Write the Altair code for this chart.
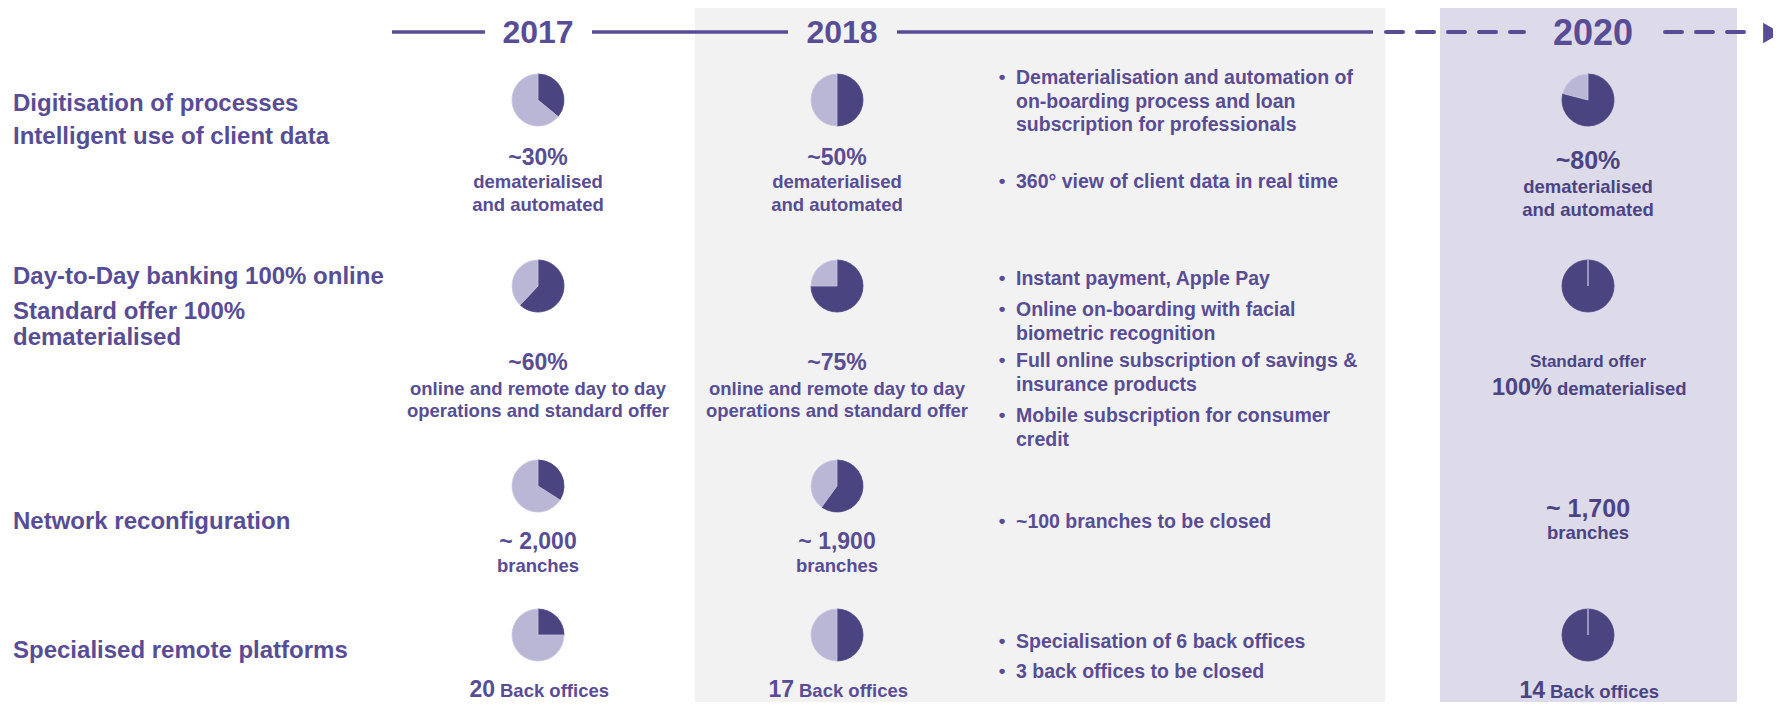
import altair as alt
import pandas as pd

# ---------------- data ----------------
years = ["2017", "2018", "2020"]

row_titles = [
    ["Digitisation of processes", "Intelligent use of client data"],
    ["Day-to-Day banking 100% online", "Standard offer 100%", "dematerialised"],
    ["Network reconfiguration"],
    ["Specialised remote platforms"],
]

# dark-slice share of each pie, rows 1..4 (None = no pie)
share_2017 = [0.36, 0.62, 0.34, 0.25]
share_2018 = [0.50, 0.75, 0.60, 0.50]
share_2020 = [0.79, 1.00, None, 1.00]

caption_2017 = [
    ["~30%", "dematerialised", "and automated"],
    ["~60%", "online and remote day to day", "operations and standard offer"],
    ["~ 2,000", "branches"],
    ["20", "Back offices"],
]
caption_2018 = [
    ["~50%", "dematerialised", "and automated"],
    ["~75%", "online and remote day to day", "operations and standard offer"],
    ["~ 1,900", "branches"],
    ["17", "Back offices"],
]
caption_2020 = [
    ["~80%", "dematerialised", "and automated"],
    ["Standard offer", "100%", "dematerialised"],
    ["~ 1,700", "branches"],
    ["14", "Back offices"],
]

bullets_row1 = [
    ["Dematerialisation and automation of", "on-boarding process and loan", "subscription for professionals"],
    ["360° view of client data in real time"],
]
bullets_row2 = [
    ["Instant payment, Apple Pay"],
    ["Online on-boarding with facial", "biometric recognition"],
    ["Full online subscription of savings &", "insurance products"],
    ["Mobile subscription for consumer", "credit"],
]
bullets_row3 = [["~100 branches to be closed"]]
bullets_row4 = [["Specialisation of 6 back offices"], ["3 back offices to be closed"]]

# ---------------- layout & style ----------------
W, H, M = 1781, 710, 8
FONT = "Liberation Sans"
TEXT = "#584D95"
TEXT_20 = "#4A4483"
DARK = "#4A4480"
LIGHT = "#B9B6D6"
GRAY = "#F2F2F2"
LAV = "#DDDAEA"

XS = alt.Scale(domain=[M, W - M], nice=False, zero=False)
YS = alt.Scale(domain=[M, H - M], nice=False, zero=False, reverse=True)

col_x = {"2017": 538, "2018": 837, "2020": 1588}
year_x = {"2017": 538, "2018": 842, "2020": 1593}
year_size = {"2017": 32, "2018": 32, "2020": 36}
year_base = {"2017": 43, "2018": 43, "2020": 45}
pie_y = [100, 286, 486, 635]
PIE_R = 26

title_base = [[111, 144], [284, 319, 345], [529], [658]]
cap_base = {
    "2017": [[165, 188, 211], [370, 395, 417], [549, 572], [697]],
    "2018": [[165, 188, 211], [370, 395, 417], [549, 572], [697]],
    "2020": [[169, 193, 216], [367, 395], [517, 539], [698]],
}
bullet_first = [[84, 188], [285, 316, 367, 422], [528], [648, 678]]
BULLET_LH = 23.5
BX, TX = 1002, 1016

panels = pd.DataFrame([
    dict(x=695, x2=1385, y=6, y2=H, color=GRAY),
    dict(x=1440, x2=1737, y=6, y2=H, color=LAV),
])
solid_segs = pd.DataFrame([
    dict(x=392, x2=485, y=32), dict(x=592, x2=788, y=32), dict(x=897, x2=1373, y=32),
])
dash_segs = pd.DataFrame([dict(x=1386, x2=1524, y=32), dict(x=1665, x2=1758, y=32)])
arrow = pd.DataFrame([dict(x=1772, y=33)])

# ---------------- tables built from the arrays ----------------
texts = []
for yr in years:
    texts.append(dict(x=year_x[yr], y=year_base[yr], text=yr, size=year_size[yr], align="center", color=TEXT))

for lines, bases in zip(row_titles, title_base):
    for t, b in zip(lines, bases):
        texts.append(dict(x=13, y=b, text=t, size=24, align="left", color=TEXT))

for yr, caps in zip(years, [caption_2017, caption_2018, caption_2020]):
    cx = col_x[yr]
    col = TEXT_20 if yr == "2020" else TEXT
    big = 25 if yr == "2020" else 23
    for r, lines in enumerate(caps):
        bases = cap_base[yr][r]
        if r == 3:
            texts.append(dict(x=cx - 43, y=bases[0], text=lines[0], size=23, align="right", color=col))
            texts.append(dict(x=cx - 38, y=bases[0], text=lines[1], size=18.5, align="left", color=col))
        elif yr == "2020" and r == 1:
            texts.append(dict(x=cx, y=bases[0], text=lines[0], size=17, align="center", color=col))
            texts.append(dict(x=cx - 36, y=bases[1], text=lines[1], size=23.5, align="right", color=col))
            texts.append(dict(x=cx - 31, y=bases[1], text=lines[2], size=18.5, align="left", color=col))
        else:
            for k, (t, b) in enumerate(zip(lines, bases)):
                texts.append(dict(x=cx, y=b, text=t, size=big if k == 0 else 18.5,
                                  align="center", color=col))

for group, firsts in zip([bullets_row1, bullets_row2, bullets_row3, bullets_row4], bullet_first):
    for lines, b0 in zip(group, firsts):
        texts.append(dict(x=BX, y=b0 - 1, text="•", size=19, align="center", color=TEXT))
        for k, t in enumerate(lines):
            texts.append(dict(x=TX, y=b0 + k * BULLET_LH, text=t, size=19.5, align="left", color=TEXT))

text_df = pd.DataFrame(texts)

pies = []
for yr, shares in zip(years, [share_2017, share_2018, share_2020]):
    for r, s in enumerate(shares):
        if s is None:
            continue
        pies.append(dict(cx=col_x[yr], cy=pie_y[r], share=s, slice="dark"))
        pies.append(dict(cx=col_x[yr], cy=pie_y[r], share=s, slice="light"))
pie_df = pd.DataFrame(pies)

# ---------------- chart ----------------
def X(f="x"):
    return alt.X(f"{f}:Q", scale=XS, axis=None)

def Y(f="y"):
    return alt.Y(f"{f}:Q", scale=YS, axis=None)

panel_layer = alt.Chart(panels).mark_rect().encode(
    x=X(), x2="x2:Q", y=Y(), y2="y2:Q", color=alt.Color("color:N", scale=None)
)
solid_layer = alt.Chart(solid_segs).mark_rule(color=TEXT, strokeWidth=3.5).encode(
    x=X(), x2="x2:Q", y=Y()
)
dash_layer = alt.Chart(dash_segs).mark_rule(
    color=TEXT, strokeWidth=4, strokeDash=[17, 14], strokeCap="round"
).encode(x=X(), x2="x2:Q", y=Y())
arrow_layer = alt.Chart(arrow).mark_point(
    shape="triangle-right", filled=True, size=420, color=TEXT, opacity=1
).encode(x=X(), y=Y())

pie_layer = alt.Chart(pie_df).transform_calculate(
    t0="datum.slice == 'dark' ? 0 : datum.share",
    t1="datum.slice == 'dark' ? datum.share : 1",
).mark_arc(radius=PIE_R, strokeWidth=0.8).encode(
    x=X("cx"),
    y=Y("cy"),
    theta=alt.Theta("t0:Q", scale=alt.Scale(domain=[0, 1], range=[0, 6.283185307])),
    theta2="t1:Q",
    color=alt.Color("slice:N", scale=alt.Scale(domain=["dark", "light"], range=[DARK, LIGHT]), legend=None),
    stroke=alt.Stroke("slice:N", scale=alt.Scale(domain=["dark", "light"], range=[DARK, "#C9C6E0"]), legend=None),
)

def text_layer(align):
    return alt.Chart(text_df).transform_filter(
        alt.datum.align == align
    ).mark_text(
        align=align, baseline="alphabetic", font=FONT, fontWeight="bold"
    ).encode(
        x=X(), y=Y(), text="text:N",
        size=alt.Size("size:Q", scale=None, legend=None),
        color=alt.Color("color:N", scale=None),
    )

chart = alt.layer(
    panel_layer, solid_layer, dash_layer, arrow_layer, pie_layer,
    text_layer("left"), text_layer("center"), text_layer("right"),
).properties(
    width=W - 2 * M, height=H - 2 * M, padding=0, background="white",
    autosize=alt.AutoSizeParams(type="none"),
).configure_view(stroke=None).resolve_scale(color="independent", stroke="independent")

chart.save("out.html", embed_options={"renderer": "svg", "actions": False})
